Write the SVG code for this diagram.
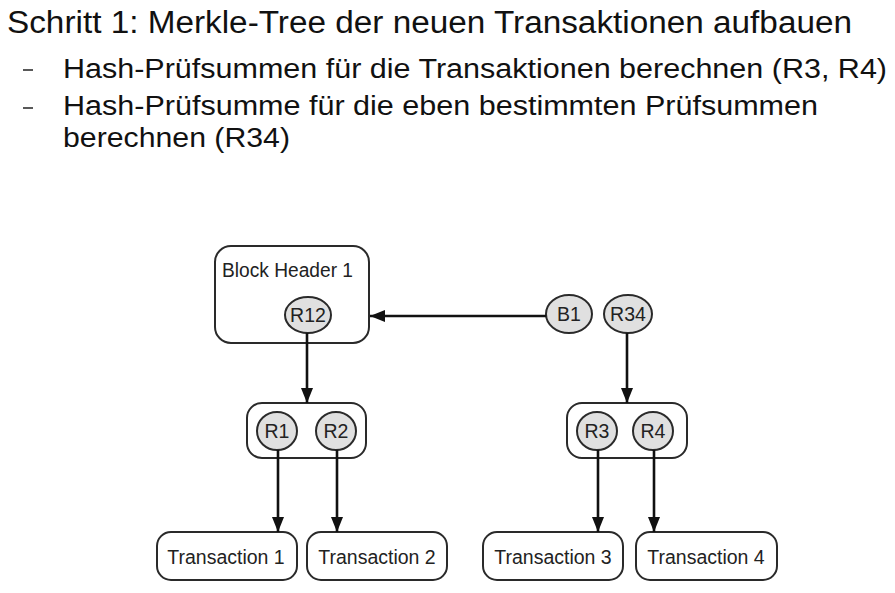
<svg xmlns="http://www.w3.org/2000/svg" width="895" height="593" viewBox="0 0 895 593">
<defs>
<style>
.t{font-family:"Liberation Sans",Arial,sans-serif;fill:#111}
.hd{font-size:31px}
.sub{font-size:27px}
.lbl{font-family:"Liberation Sans",Arial,sans-serif;font-size:19.5px;fill:#222}
.box{fill:#fff;stroke:#2a2a2a;stroke-width:2}
.el{fill:#e0e0e0;stroke:#2a2a2a;stroke-width:2}
.con{stroke:#111;stroke-width:2.6;fill:none}
.dash{stroke:#222;stroke-width:1.5}
</style>
<marker id="ah" markerUnits="userSpaceOnUse" markerWidth="16" markerHeight="12" refX="15" refY="6" orient="auto">
<path d="M0,0 L15,6 L0,12 Z" fill="#111"/>
</marker>
</defs>
<g id="text">
<text class="t hd" x="7" y="33" textLength="845" lengthAdjust="spacingAndGlyphs">Schritt 1: Merkle-Tree der neuen Transaktionen aufbauen</text>
<line class="dash" x1="23" y1="70" x2="33" y2="70"/>
<text class="t sub" x="63" y="78" textLength="824" lengthAdjust="spacingAndGlyphs">Hash-Prüfsummen für die Transaktionen berechnen (R3, R4)</text>
<line class="dash" x1="23" y1="108" x2="33" y2="108"/>
<text class="t sub" x="63" y="115" textLength="755" lengthAdjust="spacingAndGlyphs">Hash-Prüfsumme für die eben bestimmten Prüfsummen</text>
<text class="t sub" x="63" y="147" textLength="227" lengthAdjust="spacingAndGlyphs">berechnen (R34)</text>
</g>
<g id="blockheader1">
<rect class="box" x="215" y="246" width="154" height="97" rx="16"/>
<text class="lbl" x="222" y="277" textLength="131" lengthAdjust="spacingAndGlyphs">Block Header 1</text>
</g>
<g id="r12">
<ellipse class="el" cx="308" cy="315" rx="23" ry="18"/>
<text class="lbl" x="308" y="322" text-anchor="middle">R12</text>
</g>
<g id="b1">
<ellipse class="el" cx="569" cy="314" rx="23" ry="19"/>
<text class="lbl" x="569" y="321" text-anchor="middle">B1</text>
</g>
<g id="r34">
<ellipse class="el" cx="628" cy="314" rx="24" ry="19"/>
<text class="lbl" x="628" y="321" text-anchor="middle">R34</text>
</g>
<g id="group12">
<rect class="box" x="247" y="403" width="119" height="55" rx="15"/>
</g>
<g id="r1">
<ellipse class="el" cx="277" cy="431" rx="20" ry="19"/>
<text class="lbl" x="277" y="438" text-anchor="middle">R1</text>
</g>
<g id="r2">
<ellipse class="el" cx="336" cy="431" rx="20" ry="19"/>
<text class="lbl" x="336" y="438" text-anchor="middle">R2</text>
</g>
<g id="group34">
<rect class="box" x="567" y="403" width="120" height="55" rx="15"/>
</g>
<g id="r3">
<ellipse class="el" cx="597" cy="431" rx="20" ry="19"/>
<text class="lbl" x="597" y="438" text-anchor="middle">R3</text>
</g>
<g id="r4">
<ellipse class="el" cx="653" cy="431" rx="20" ry="19"/>
<text class="lbl" x="653" y="438" text-anchor="middle">R4</text>
</g>
<g id="tx1">
<rect class="box" x="157" y="532" width="140" height="48" rx="14"/>
<text class="lbl" x="226" y="564" text-anchor="middle">Transaction 1</text>
</g>
<g id="tx2">
<rect class="box" x="307" y="532" width="140" height="48" rx="14"/>
<text class="lbl" x="377" y="564" text-anchor="middle">Transaction 2</text>
</g>
<g id="tx3">
<rect class="box" x="483" y="532" width="140" height="48" rx="14"/>
<text class="lbl" x="553" y="564" text-anchor="middle">Transaction 3</text>
</g>
<g id="tx4">
<rect class="box" x="636" y="532" width="141" height="48" rx="14"/>
<text class="lbl" x="706" y="564" text-anchor="middle">Transaction 4</text>
</g>
<g id="connectors">
<line class="con" x1="546" y1="316" x2="370" y2="316" marker-end="url(#ah)"/>
<line class="con" x1="307" y1="333" x2="307" y2="403" marker-end="url(#ah)"/>
<line class="con" x1="627" y1="333" x2="627" y2="403" marker-end="url(#ah)"/>
<line class="con" x1="278" y1="450" x2="278" y2="532" marker-end="url(#ah)"/>
<line class="con" x1="337" y1="450" x2="337" y2="532" marker-end="url(#ah)"/>
<line class="con" x1="598" y1="450" x2="598" y2="532" marker-end="url(#ah)"/>
<line class="con" x1="654" y1="450" x2="654" y2="532" marker-end="url(#ah)"/>
</g>
</svg>
